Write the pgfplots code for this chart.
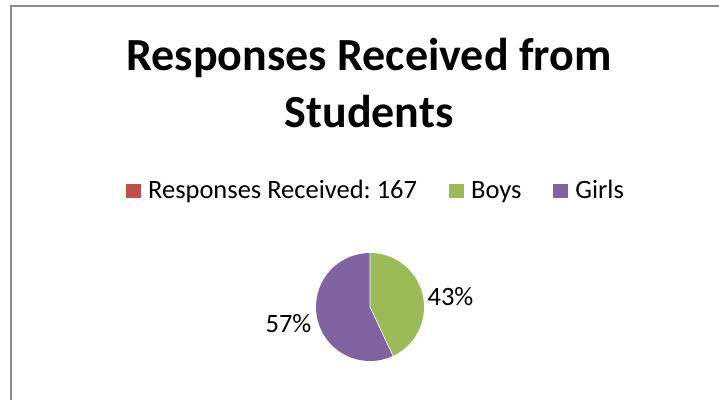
\documentclass[border=0pt]{standalone}
\usepackage{pgfplots}
\pgfplotsset{compat=1.18}
\usepackage{pgfplotstable}
\usepackage{fontspec}
\setmainfont{Carlito}

\definecolor{xlred}{HTML}{C0504D}
\definecolor{xlgreen}{HTML}{9BBB59}
\definecolor{xlpurple}{HTML}{8064A2}
\definecolor{frame}{HTML}{8C8C8C}

% share of the 167 responses, in percent
\pgfplotstableread{
label share
Boys  43
Girls 57
}\responses

\begin{document}
\frenchspacing
\begin{tikzpicture}[x=1bp,y=1bp]
\path[use as bounding box] (0,0) rectangle (719,400);
\draw[frame, line width=2bp] (11,0) -- (11,394) -- (719,394);

% title, two lines
\node[anchor=base, font=\fontsize{46bp}{52bp}\selectfont\bfseries] at (369,330) {Responses Received from};
\node[anchor=base, font=\fontsize{46bp}{52bp}\selectfont\bfseries] at (369,273) {Students};

\pgfplotstablegetelem{0}{share}\of\responses \let\boys\pgfplotsretval
\pgfplotstablegetelem{1}{share}\of\responses \let\girls\pgfplotsretval
\pgfmathsetmacro{\splitang}{90-3.6*\boys}

\begin{axis}[
    hide axis,
    scale only axis,
    width=108bp, height=108bp,
    xmin=-1, xmax=1, ymin=-1, ymax=1,
    anchor=south west, at={(316bp,39bp)},
    clip=false,
    legend columns=3,
    legend style={
      draw=none, fill=none,
      at={(axis cs:0.093,2.167)}, anchor=center,
      font=\fontsize{26.5bp}{32bp}\selectfont,
      inner sep=0pt,
      nodes={inner sep=0pt},
      cells={anchor=base west},
      /tikz/every odd column/.append style={column sep=7bp},
      /tikz/every even column/.append style={column sep=32bp},
    },
    legend image code/.code={\fill[#1, draw=none] (0bp,0bp) rectangle (15bp,14bp);},
  ]

  \addlegendimage{fill=xlred}
  \addlegendentry{Responses Received: 167}
  \addlegendimage{fill=xlgreen}
  \addlegendentry{Boys}
  \addlegendimage{fill=xlpurple}
  \addlegendentry{Girls}

  % pie: Boys clockwise from 12 o'clock, Girls the rest
  \fill[xlgreen] (axis cs:0,0) -- (axis cs:0,1)
    arc[start angle=90, end angle=\splitang, radius=54bp] -- cycle;
  \fill[xlpurple] (axis cs:0,0) -- (axis cs:{cos(\splitang)},{sin(\splitang)})
    arc[start angle=\splitang, end angle=-270, radius=54bp] -- cycle;
  \draw[white, line width=0.6bp] (axis cs:0,1) -- (axis cs:0,0)
    -- (axis cs:{cos(\splitang)},{sin(\splitang)});

  \node[anchor=base, font=\fontsize{26.5bp}{32bp}\selectfont] at (axis cs:1.491,0.037) {\boys\%};
  \node[anchor=base, font=\fontsize{26.5bp}{32bp}\selectfont] at (axis cs:-1.509,-0.463) {\girls\%};
\end{axis}
\end{tikzpicture}
\end{document}
